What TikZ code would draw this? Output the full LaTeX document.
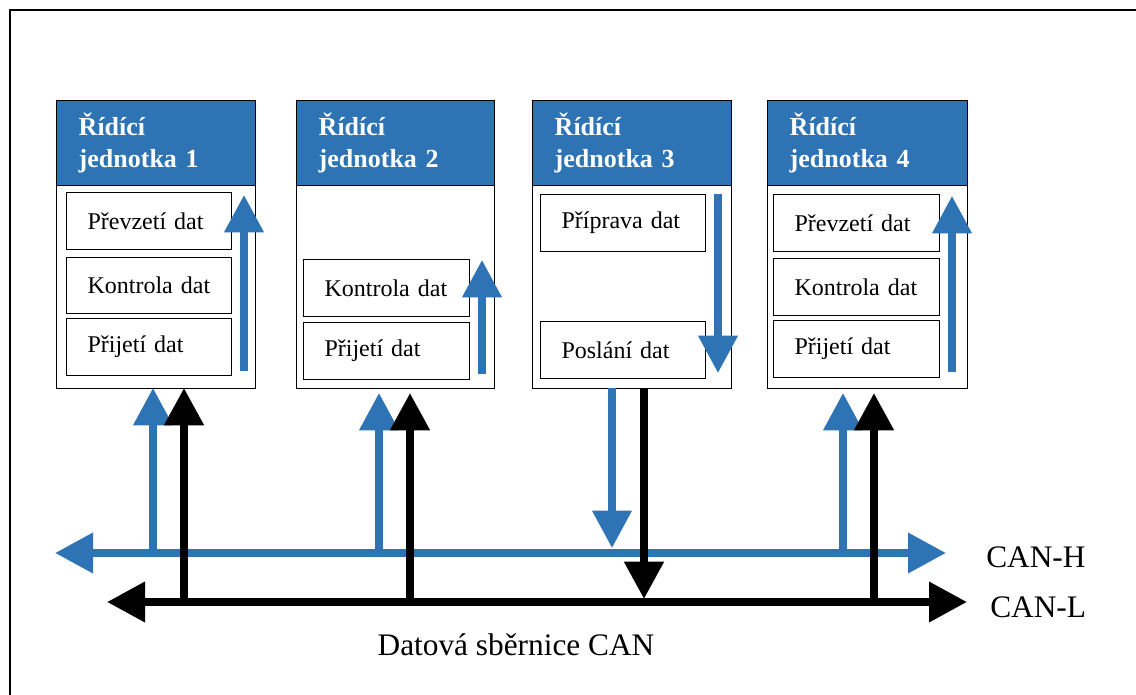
\documentclass[tikz,border=0pt]{standalone}
\usepackage{fontspec}
\setmainfont{Liberation Serif}
\usetikzlibrary{arrows.meta}
\definecolor{canblue}{RGB}{46,116,181}

\begin{document}
\begin{tikzpicture}[x=0.75pt,y=-0.75pt,
  hdr/.style={draw=black, line width=1.1pt, fill=canblue, text=white,
    anchor=north west, inner xsep=16.5pt, inner ysep=0pt, align=left,
    font=\fontsize{19.5}{24}\selectfont\bfseries},
  unitbody/.style={draw=black, line width=1.1pt, fill=white, anchor=north west,
    inner sep=0pt},
  inbox/.style={draw=black, line width=0.8pt, anchor=north west,
    minimum height=42.75pt, inner xsep=15.75pt, inner ysep=0pt, align=left,
    font=\fontsize{18}{21}\selectfont},
  flow/.style={line width=5.4pt, -{Triangle[width=28.5pt,length=28pt]}},
  bus/.style={line width=6pt, {Triangle[width=29pt,length=28.5pt]}-{Triangle[width=29pt,length=28.5pt]}},
  buslabel/.style={font=\fontsize{23.5}{28}\selectfont, inner sep=0pt}
]
\useasboundingbox (0,0) rectangle (1136,695);

% outer frame (only top and left edges fall on the page)
\draw[line width=1.5pt] (10,720) -- (10,10) -- (1160,10);

% ---------- control units ----------
% unit 1
\node[unitbody, minimum width=149.25pt, minimum height=152.25pt] (u1) at (56,185) {};
\node[hdr, minimum height=63.75pt, text width=116.25pt] (h1) at (56,100) {Řídící\\jednotka 1};
\node[inbox, text width=92.25pt] (u1a) at (66,192) {Převzetí dat};
\node[inbox, text width=92.25pt, minimum height=42pt] (u1b) at (66,257) {Kontrola dat};
\node[inbox, text width=92.25pt] (u1c) at (66,318) {Přijetí dat};

% unit 2
\node[unitbody, minimum width=148.5pt, minimum height=152.25pt] (u2) at (296,185) {};
\node[hdr, minimum height=63.75pt, text width=115.5pt] (h2) at (296,100) {Řídící\\jednotka 2};
\node[inbox, text width=93pt] (u2b) at (303,259) {Kontrola dat};
\node[inbox, text width=93pt] (u2c) at (303,322) {Přijetí dat};

% unit 3
\node[unitbody, minimum width=149.25pt, minimum height=152.25pt] (u3) at (532,185) {};
\node[hdr, minimum height=63.75pt, text width=116.25pt] (h3) at (532,100) {Řídící\\jednotka 3};
\node[inbox, text width=92.25pt] (u3a) at (540,194) {Příprava dat};
\node[inbox, text width=92.25pt] (u3b) at (540,321) {Poslání dat};

% unit 4
\node[unitbody, minimum width=150pt, minimum height=152.25pt] (u4) at (767,185) {};
\node[hdr, minimum height=63.75pt, text width=117pt] (h4) at (767,100) {Řídící\\jednotka 4};
\node[inbox, text width=93pt] (u4a) at (773,194) {Převzetí dat};
\node[inbox, text width=93pt] (u4b) at (773,258) {Kontrola dat};
\node[inbox, text width=93pt] (u4c) at (773,320) {Přijetí dat};

% ---------- internal data flow ----------
\coordinate (f1s) at (244,371); \coordinate (f1e) at (244,195);
\coordinate (f2s) at (482,374); \coordinate (f2e) at (482,260);
\coordinate (f3s) at (718,194); \coordinate (f3e) at (718,373);
\coordinate (f4s) at (952,372); \coordinate (f4e) at (952,196);
\draw[flow, canblue] (f1s) -- (f1e);
\draw[flow, canblue] (f2s) -- (f2e);
\draw[flow, canblue] (f3s) -- (f3e);
\draw[flow, canblue] (f4s) -- (f4e);

% ---------- bus lines ----------
\coordinate (hL) at (55,553);  \coordinate (hR) at (946,553);
\coordinate (lL) at (107,602); \coordinate (lR) at (967,602);

% CAN-H (blue) with its taps
\draw[bus, canblue] (hL) -- (hR);
\draw[flow, canblue] (153,553) -- (153,388);
\draw[flow, canblue] (379,553) -- (379,393);
\draw[flow, canblue] (612,388) -- (612,548);
\draw[flow, canblue] (843,553) -- (843,393);

% CAN-L (black) with its taps
\draw[bus, black] (lL) -- (lR);
\draw[flow, black, line width=6pt] (184,602) -- (184,388);
\draw[flow, black, line width=6pt] (410,602) -- (410,393);
\draw[flow, black, line width=6pt] (644,388) -- (644,599);
\draw[flow, black, line width=6pt] (874,602) -- (874,393);

% ---------- labels ----------
\node[buslabel, anchor=west] (labH) at (986,557) {CAN-H};
\node[buslabel, anchor=west] (labL) at (990,607) {CAN-L};
\node[buslabel] (labBus) at (516,645) {Datová sběrnice CAN};
\end{tikzpicture}
\end{document}
